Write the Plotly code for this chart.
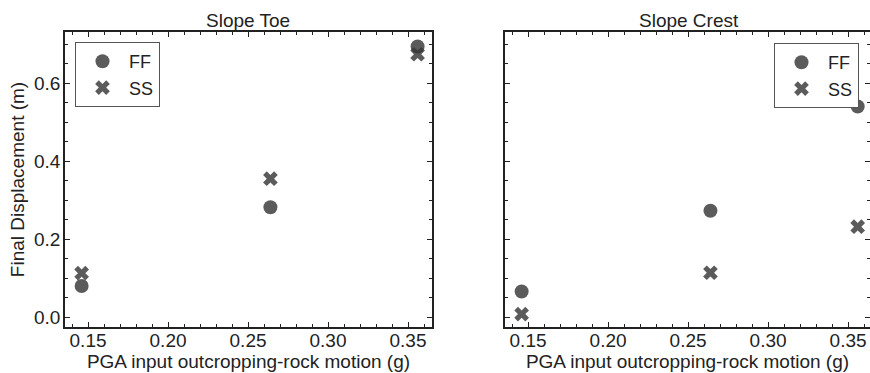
import plotly.graph_objects as go

# Data
pga = [0.146, 0.264, 0.356]
toe_ff = [0.080, 0.282, 0.694]
toe_ss = [0.113, 0.355, 0.674]
crest_ff = [0.066, 0.273, 0.540]
crest_ss = [0.008, 0.114, 0.232]
series_names = ["FF", "SS"]
panel_titles = ["Slope Toe", "Slope Crest"]
x_title = "PGA input outcropping-rock motion (g)"
y_title = "Final Displacement (m)"

W, H = 870, 373
FONT = "Liberation Sans, Arial, sans-serif"
MCOL = "rgba(55,55,55,0.82)"
FS = 19

fig = go.Figure()

def add_panel(ff, ss, xa, ya, legend):
    fig.add_trace(go.Scatter(x=pga, y=ff, mode="markers", name=series_names[0],
                             marker=dict(symbol="circle", size=14, color=MCOL),
                             xaxis=xa, yaxis=ya, legend=legend))
    fig.add_trace(go.Scatter(x=pga, y=ss, mode="markers", name=series_names[1],
                             marker=dict(symbol="x", size=13, color=MCOL),
                             xaxis=xa, yaxis=ya, legend=legend))

add_panel(toe_ff, toe_ss, "x", "y", "legend")
add_panel(crest_ff, crest_ss, "x2", "y2", "legend2")

ydom = [1 - 327 / H, 1 - 32 / H]
common_x = dict(showline=True, linecolor="#222", linewidth=1.6, mirror="ticks",
                ticks="inside", ticklen=5, tickwidth=1.3, tickcolor="#222",
                dtick=0.05, tick0=0, tickformat=".2f", showgrid=False, zeroline=False,
                automargin=False, ticklabelstandoff=-5,
                tickfont=dict(family=FONT, size=FS, color="#222"),
                minor=dict(dtick=0.01, tick0=0, ticks="inside", ticklen=3, tickwidth=1, tickcolor="#222", showgrid=False),
                title=dict(text=x_title, font=dict(family=FONT, size=FS, color="#222"), standoff=2))
common_y = dict(showline=True, linecolor="#222", linewidth=1.6, mirror="ticks",
                ticks="inside", ticklen=5, tickwidth=1.3, tickcolor="#222",
                dtick=0.2, tick0=0, tickformat=".1f", showgrid=False, zeroline=False,
                automargin=False, ticklabelstandoff=-1,
                range=[-0.025, 0.731], domain=ydom,
                tickfont=dict(family=FONT, size=FS, color="#222"),
                minor=dict(dtick=0.05, tick0=0, ticks="inside", ticklen=3, tickwidth=1, tickcolor="#222", showgrid=False))

fig.update_layout(
    width=W, height=H,
    margin=dict(l=0, r=0, t=0, b=0),
    paper_bgcolor="white", plot_bgcolor="white",
    font=dict(family=FONT, size=FS, color="#222"),
    xaxis=dict(common_x, domain=[65 / W, 432 / W], range=[0.1356, 0.3650], anchor="y"),
    yaxis=dict(common_y, anchor="x",
               title=dict(text=y_title, font=dict(family=FONT, size=FS, color="#222"), standoff=4)),
    xaxis2=dict(common_x, domain=[505 / W, 1.0], range=[0.1356, 0.3637], anchor="y2"),
    yaxis2=dict(common_y, anchor="x2", showticklabels=False),
    legend=dict(x=75 / W, y=1 - 42 / H, xanchor="left", yanchor="top",
                bordercolor="#555", borderwidth=1, bgcolor="white",
                font=dict(family=FONT, size=18, color="#222"), itemwidth=43, tracegroupgap=0),
    legend2=dict(x=859 / W, y=1 - 43 / H, xanchor="right", yanchor="top",
                 bordercolor="#555", borderwidth=1, bgcolor="white",
                 font=dict(family=FONT, size=18, color="#222"), itemwidth=43, tracegroupgap=0),
    showlegend=True,
)

centers = [(65 + 432) / 2 / W, (505 + 873) / 2 / W]
for c, t in zip(centers, panel_titles):
    fig.add_annotation(text=t, x=c, y=1 - 20 / H, xref="paper", yref="paper",
                       xanchor="center", yanchor="middle", showarrow=False,
                       font=dict(family=FONT, size=FS, color="#222"))

fig.write_html("out.html", config={"displayModeBar": False},
               post_script="document.body.style.margin='0';document.body.style.overflow='hidden';")
